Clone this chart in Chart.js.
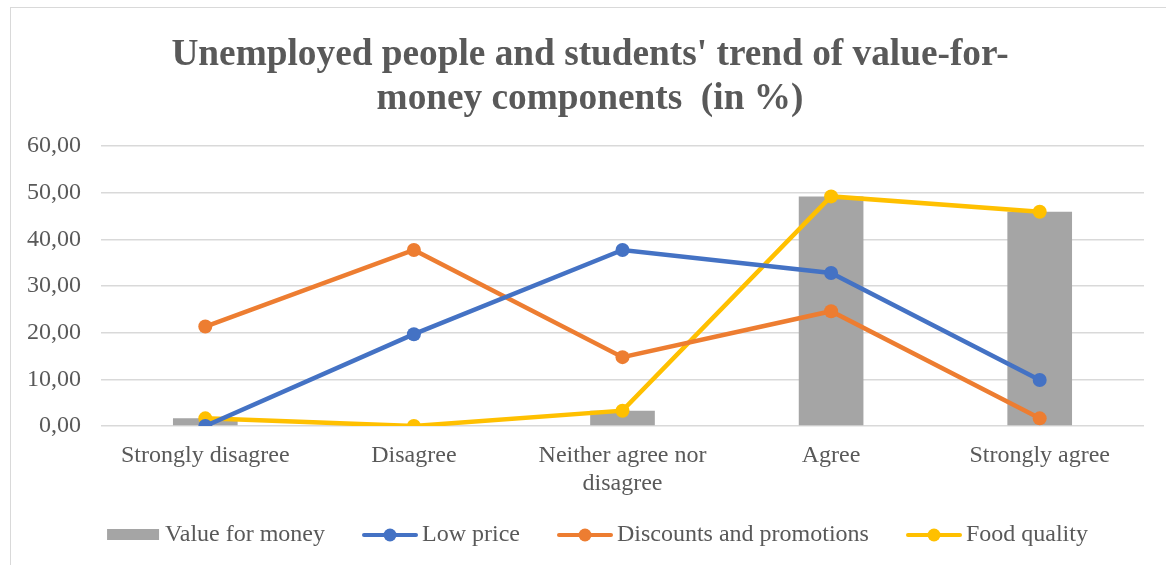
<!DOCTYPE html>
<html>
<head>
<meta charset="utf-8">
<script src="https://cdn.jsdelivr.net/npm/chart.js@4"></script>
<style>
  html, body { margin: 0; padding: 0; background: #fff; overflow: hidden; }
  #frame {
    position: absolute; left: 10px; top: 7px;
    width: 1170px; height: 600px;
    border: 1px solid #d9d9d9; box-sizing: border-box;
  }
  #wrap { position: absolute; left: 0; top: 0; width: 1155px; height: 590px; }
</style>
</head>
<body>
<div id="frame"><div id="wrap"><canvas id="trendChart"></canvas></div></div>
<script>
// --- chart data ---
const categories = ['Strongly disagree', 'Disagree', ['Neither agree nor', 'disagree'], 'Agree', 'Strongly agree'];
const valueForMoney = [1.64, 0.00, 3.28, 49.18, 45.90];
const lowPrice = [0.00, 19.67, 37.70, 32.79, 9.84];
const discountsPromotions = [21.31, 37.70, 14.75, 24.59, 1.64];
const foodQuality = [1.64, 0.00, 3.28, 49.18, 45.90];
const yTicks = [0, 10, 20, 30, 40, 50, 60];

const GREY = '#a5a5a5';
const BLUE = '#4472c4';
const ORANGE = '#ed7d31';
const YELLOW = '#ffc000';
const TEXT = '#595959';
const SERIF = "'Liberation Serif', 'Times New Roman', serif";

// legend box width; icon canvas is 16px wider and keeps its swatch at the
// right-hand side so the label text follows it closely
const LEGEND_BOX = 62;

function swatch(color, isBar) {
    const c = document.createElement('canvas');
    c.width = LEGEND_BOX + 16; c.height = 16;
    const g = c.getContext('2d');
    const right = c.width;
    g.fillStyle = color;
    g.strokeStyle = color;
    if (isBar) {
        g.fillRect(right - 54, 2, 52, 11);
    } else {
        g.lineWidth = 4;
        g.lineCap = 'round';
        g.beginPath();
        g.moveTo(right - 54, 8); g.lineTo(right - 2, 8);
        g.stroke();
        g.beginPath();
        g.arc(right - 28, 8, 6.5, 0, Math.PI * 2);
        g.fill();
    }
    return c;
}

function lineSet(label, data, color) {
    return {
        type: 'line',
        label: label,
        data: data,
        borderColor: color,
        backgroundColor: color,
        borderWidth: 4.5,
        pointRadius: 7,
        pointHoverRadius: 7,
        pointBorderWidth: 0,
        tension: 0,
        order: 0,
        legendIcon: swatch(color, false)
    };
}

const datasets = [
    {
        type: 'bar',
        label: 'Value for money',
        data: valueForMoney,
        backgroundColor: GREY,
        barPercentage: 0.31,
        categoryPercentage: 1,
        order: 1,
        legendIcon: swatch(GREY, true)
    },
    lineSet('Low price', lowPrice, BLUE),
    lineSet('Discounts and promotions', discountsPromotions, ORANGE),
    lineSet('Food quality', foodQuality, YELLOW)
];

// title and legend sit a little right of the canvas centre
const nudgeBoxes = {
    id: 'nudgeBoxes',
    afterLayout(chart) {
        const shift = (box, dx, dy) => {
            if (!box) return;
            box.left += dx; box.right += dx;
            box.top += dy; box.bottom += dy;
        };
        shift(chart.titleBlock, 10.5, 0);
        shift(chart.legend, 10, 1.5);
    }
};

new Chart(document.getElementById('trendChart'), {
    data: { labels: categories, datasets: datasets },
    plugins: [nudgeBoxes],
    options: {
        responsive: true,
        maintainAspectRatio: false,
        animation: false,
        layout: { padding: { left: 4, right: 22, top: 0, bottom: 42.5 } },
        scales: {
            x: {
                grid: { display: false },
                border: { display: false },
                ticks: { color: TEXT, font: { family: SERIF, size: 24, lineHeight: 1.15 }, maxRotation: 0, padding: 8 },
                // fixed axis height so the legend sits just under the labels
                afterFit: (scale) => { scale.height = 72.5; }
            },
            y: {
                min: 0,
                max: 60,
                afterBuildTicks: (axis) => { axis.ticks = yTicks.map(v => ({ value: v })); },
                afterFit: (scale) => { scale.width = 86; },
                grid: { color: '#d9d9d9', lineWidth: 1.5, drawTicks: false },
                border: { display: false },
                ticks: {
                    color: TEXT,
                    font: { family: SERIF, size: 24 },
                    padding: 20,
                    callback: (v) => v.toFixed(2).replace('.', ',')
                }
            }
        },
        plugins: {
            title: {
                display: true,
                text: ["Unemployed people and students' trend of value-for-", 'money components  (in %)'],
                color: TEXT,
                font: { family: SERIF, size: 37.3, weight: 'bold', lineHeight: 1.161 },
                padding: { top: 26.2, bottom: 25.1 }
            },
            legend: {
                position: 'bottom',
                labels: {
                    color: TEXT,
                    font: { family: SERIF, size: 24 },
                    usePointStyle: true,
                    pointStyleWidth: LEGEND_BOX,
                    padding: 23,
                    sort: (a, b) => a.datasetIndex - b.datasetIndex,
                    generateLabels: (chart) => chart.data.datasets.map((ds, i) => ({
                        text: ds.label,
                        fillStyle: ds.backgroundColor,
                        strokeStyle: ds.backgroundColor,
                        lineWidth: 0,
                        pointStyle: ds.legendIcon,
                        datasetIndex: i,
                        hidden: false,
                        fontColor: TEXT
                    }))
                }
            },
            tooltip: { enabled: false }
        }
    }
});
</script>
</body>
</html>
